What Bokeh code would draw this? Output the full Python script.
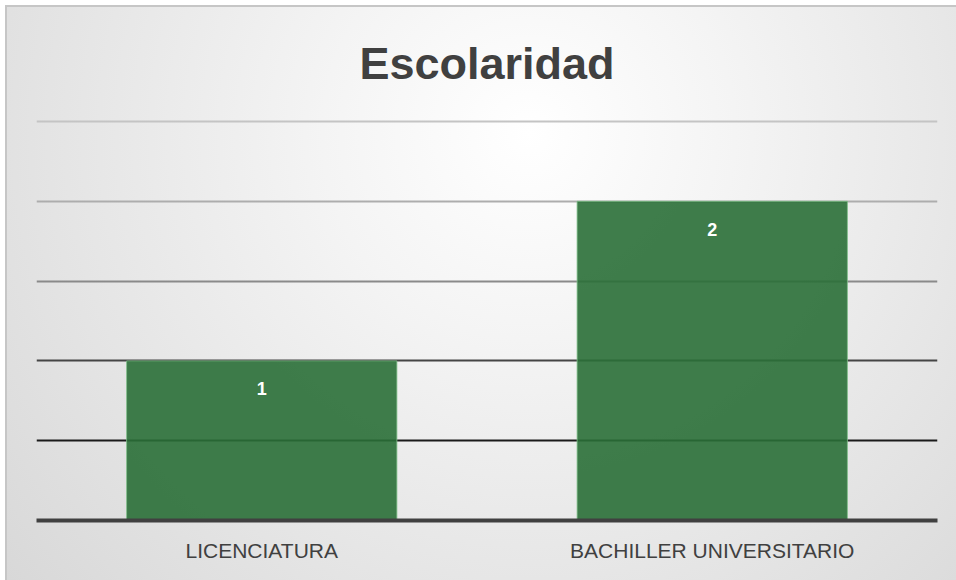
from bokeh.plotting import figure
from bokeh.models import ColumnDataSource, FactorRange, Range1d, LabelSet, Grid, FixedTicker
from bokeh.core.properties import value
from bokeh.embed import file_html
from bokeh.resources import INLINE

# Data
categories = ["LICENCIATURA", "BACHILLER UNIVERSITARIO"]
values = [1, 2]
value_labels = ["1", "2"]
grid_values = [0.5, 1.0, 1.5, 2.0, 2.5]
grid_colors = ["#1a1a1a", "#454545", "#8a8a8a", "#adadad", "#c4c4c4"]
y_max = 2.525

source = ColumnDataSource(dict(cat=categories, val=values, lab=value_labels))

p = figure(
    x_range=FactorRange(*categories, range_padding=0),
    y_range=Range1d(0, y_max),
    width=949, height=573,
    output_backend="svg", toolbar_location=None,
    min_border_left=29, min_border_right=19, min_border_top=109, min_border_bottom=60,
)
p.margin = (7, 0, 0, 7)

p.styles = {
    "background": "radial-gradient(circle at 55% 22%, #ffffff 0%, #f4f4f4 30%, #e6e6e6 65%, #d8d8d8 100%)",
    "outline": "2px solid #c6c6c6",
}
p.background_fill_color = None
p.border_fill_color = None
p.outline_line_color = None

p.title.text = "Escolaridad"
p.title.text_font = "Liberation Sans"
p.title.text_font_style = "bold"
p.title.text_font_size = "45px"
p.title.text_color = "#404040"
p.title.align = "center"
p.title.standoff = 57

p.xgrid.visible = False
p.ygrid.visible = False
for gv, gc in zip(grid_values, grid_colors):
    g = Grid(dimension=1, ticker=FixedTicker(ticks=[gv]), grid_line_color=gc, grid_line_width=2)
    p.add_layout(g)

p.vbar(x="cat", top="val", width=0.6, source=source,
       fill_color="#2a6f37", fill_alpha=0.9, line_color="#7fbf8a", line_width=1, line_alpha=0.8)

labels = LabelSet(x="cat", y="val", text="lab", source=source, y_offset=-28,
                  text_align="center", text_baseline="middle",
                  text_color="white", text_font_style="bold", text_font_size="18px",
                  text_font=value("Liberation Sans"))
p.add_layout(labels)

p.yaxis.visible = False
p.xaxis.axis_line_color = "#404040"
p.xaxis.axis_line_width = 4
p.xaxis.major_tick_line_color = None
p.xaxis.minor_tick_line_color = None
p.xaxis.major_tick_out = 0
p.xaxis.major_tick_in = 0
p.xaxis.major_label_standoff = 18
p.xaxis.major_label_text_font = "Liberation Sans"
p.xaxis.major_label_text_font_size = "21px"
p.xaxis.major_label_text_color = "#404040"

open("out.html", "w").write(file_html(p, INLINE))
